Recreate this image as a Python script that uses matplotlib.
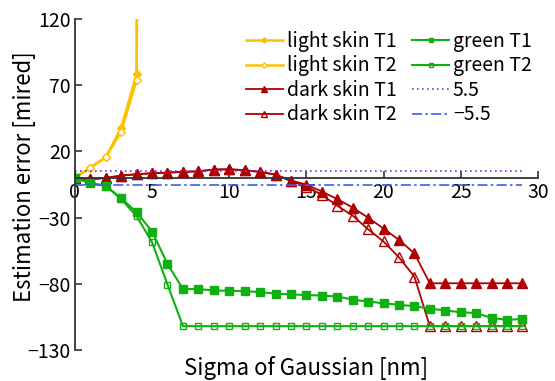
import matplotlib
matplotlib.use("Agg")
import matplotlib.pyplot as plt
import numpy as np

plt.rcParams['font.family'] = ['Noto Sans CJK JP', 'DejaVu Sans']

x_all = list(range(30))
x_light = [0, 1, 2, 3, 4, 5]
light_t1 = [0, 7.8, 15.6, 38, 78.5, 3000]
light_t2 = [0, 7.8, 15.6, 35, 74, 3000]

dark_t1 = [0, -1, 0, 1.7, 2.8, 3.5, 4, 4.5, 5, 6.3, 6.5, 5.8, 4.5, 2.5, -2,
           -5, -10.3, -16, -22.4, -30, -38.3, -46.8, -57, -79.6, -79.6, -79.6,
           -79.6, -79.6, -79.6, -79.6]
dark_t2 = [0, -1, 0, 1.7, 2.8, 3.5, 4, 4.5, 5, 6.3, 6.5, 5.8, 4.5, 2.5, -2.5,
           -6.5, -12.8, -21, -28.5, -38.8, -48, -60, -74.5, -112, -112, -112,
           -112, -112, -112, -112]
green_t1 = [0, -4, -6, -15.4, -26, -40.5, -65, -84, -84, -85, -85.3, -85.5,
            -86.3, -87.4, -88, -88.5, -88.9, -89.6, -91.9, -93.4, -94.7, -95.9,
            -96.9, -98.7, -100.2, -101.4, -102.2, -105.7, -107.3, -106.5]
green_t2 = [0, -4, -6, -16, -29, -48.6, -80.6, -112, -112, -112, -112, -112,
            -112, -112, -112, -112, -112, -112, -112, -112, -112, -112, -112,
            -112, -112, -112, -112, -112, -112, -112]
ref_x = [0, 29]
ref_hi = [5.5, 5.5]
ref_lo = [-5.5, -5.5]

yticks = [120, 70, 20, -30, -80, -130]
xticks = [0, 5, 10, 15, 20, 25, 30]

gold = '#FFC000'
red = '#B00000'
green = '#10B010'

fig = plt.figure(figsize=(5.55, 3.81), dpi=100)
ax = fig.add_axes([0.135, 0.0814, 0.834, 0.8686])

ax.plot(x_light, light_t1, color=gold, lw=1.8, marker='D', ms=4.5, label='light skin T1')
ax.plot(x_light, light_t2, color=gold, lw=1.8, marker='D', ms=4.5, mfc='white', label='light skin T2')
ax.plot(x_all, dark_t1, color=red, lw=1.3, marker='^', ms=6.5, label='dark skin T1')
ax.plot(x_all, dark_t2, color=red, lw=1.3, marker='^', ms=6.5, mfc='none', label='dark skin T2')
ax.plot(x_all, green_t1, color=green, lw=1.5, marker='s', ms=5.5, label='green T1')
ax.plot(x_all, green_t2, color=green, lw=1.5, marker='s', ms=5, mfc='none', label='green T2')
ax.plot(ref_x, ref_hi, color='#8A2BE2', lw=1.2, ls=(0, (1, 2)), label='5.5')
ax.plot(ref_x, ref_lo, color='#4060E0', lw=1.2, ls=(0, (6, 2, 1.5, 2)), label='\u22125.5')

ax.set_xlim(0, 30)
ax.set_ylim(-130, 120)
ax.set_xticks(xticks)
ax.set_yticks(yticks)
ax.spines['top'].set_visible(False)
ax.spines['right'].set_visible(False)
ax.spines['bottom'].set_position(('data', 0))
ax.spines['bottom'].set_linewidth(1.3)
ax.spines['left'].set_linewidth(1.3)
ax.spines['bottom'].set_color('#333333')
ax.spines['left'].set_color('#333333')
ax.tick_params(axis='both', direction='in', labelsize=14, length=5, width=1.2, pad=3, colors='#333333', labelcolor='black')

fig.text(0.135 + 0.834 / 2, 1 - 368 / 381, 'Sigma of Gaussian [nm]', fontsize=16,
         ha='center', va='center')
fig.text(25 / 555, 1 - 177 / 381, 'Estimation error [mired]', fontsize=16,
         ha='center', va='center', rotation=90)

ax.legend(ncol=2, loc='upper left', bbox_to_anchor=(246 / 555, 1 - 31 / 381),
          bbox_transform=fig.transFigure, frameon=False, borderpad=0, borderaxespad=0,
          fontsize=14, markerscale=0.6, handlelength=1.9, handletextpad=0.2,
          columnspacing=0.8, labelspacing=0.18)

fig.savefig('out.png', dpi=100)
